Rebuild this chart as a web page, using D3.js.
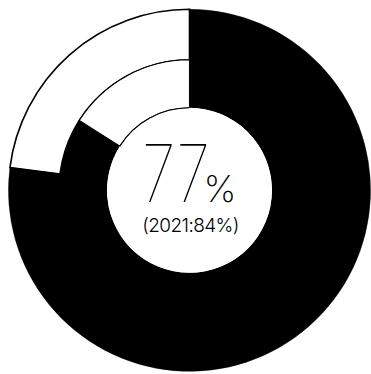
<!DOCTYPE html>
<html><head><meta charset="utf-8">
<script src="https://cdn.jsdelivr.net/npm/d3@7"></script>
<style>html,body{margin:0;padding:0;background:#fff;}svg{display:block;}</style>
</head><body>
<svg id="c" width="371" height="374"></svg>
<script>
const rings = ["2022", "2021"];
const values = [77, 84];
const mainLabel = "77";
const unitLabel = "%";
const subLabel = "(2021:84%)";

const svg = d3.select("#c");
const cx = 189.5, cy = 190.3;
const g = svg.append("g").attr("transform", `translate(${cx},${cy})`);
const rOuter = 181, rMid = 130.5, rInner = 82.5;
const radii = [[rMid, rOuter], [rInner, rMid]];
const ang = d3.scaleLinear().domain([0, 100]).range([0, 2 * Math.PI]);
const arcs = radii.map(([ri, ro]) => d3.arc().innerRadius(ri).outerRadius(ro));

// inner ring black, extended under the outer ring to avoid a seam
g.append("path")
  .attr("d", d3.arc().innerRadius(rInner).outerRadius(rOuter - 2)({startAngle: ang(0), endAngle: ang(values[1])}))
  .attr("fill", "#000");
// outer ring
g.append("path")
  .attr("d", arcs[0]({startAngle: ang(values[0]), endAngle: ang(100)}))
  .attr("fill", "#fff").attr("stroke", "#000").attr("stroke-width", 1.6);
g.append("path")
  .attr("d", arcs[0]({startAngle: ang(0), endAngle: ang(values[0])}))
  .attr("fill", "#000").attr("stroke", "#000").attr("stroke-width", 0.5);
// inner ring remainder
g.append("path")
  .attr("d", arcs[1]({startAngle: ang(values[1]), endAngle: ang(100)}))
  .attr("fill", "#fff").attr("stroke", "#000").attr("stroke-width", 1.1);
g.append("path")
  .attr("d", arcs[1]({startAngle: ang(0), endAngle: ang(values[1])}))
  .attr("fill", "#000");
g.append("circle").attr("r", rInner).attr("fill", "#fff").attr("stroke", "none");
g.append("path")
  .attr("d", d3.arc().innerRadius(rInner).outerRadius(rInner)({startAngle: ang(values[1]), endAngle: ang(100)}))
  .attr("fill", "none").attr("stroke", "#000").attr("stroke-width", 1.1);

const font = "Inter, 'Open Sans', sans-serif";
const t = g.append("text").attr("font-family", font).attr("fill", "#000");
t.append("tspan").attr("x", -47.5).attr("y", 11.5).attr("text-anchor", "start")
  .attr("font-weight", 100).attr("font-size", 79)
  .attr("textLength", 68).attr("lengthAdjust", "spacingAndGlyphs").text(mainLabel);
t.append("tspan").attr("x", 14).attr("y", 11.5).attr("text-anchor", "start")
  .attr("font-weight", 200).attr("font-size", 37).text(unitLabel);
t.append("tspan").attr("x", 1).attr("y", 42).attr("text-anchor", "middle")
  .attr("font-weight", 300).attr("font-size", 19).attr("letter-spacing", -0.6).text(subLabel);
</script>
</body></html>
